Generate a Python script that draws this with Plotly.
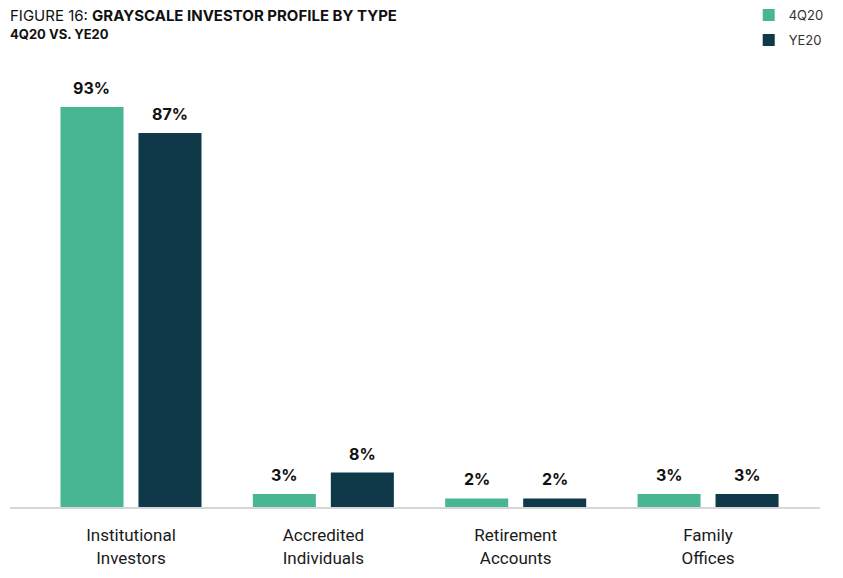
import plotly.graph_objects as go

categories = ["Institutional<br>Investors", "Accredited<br>Individuals", "Retirement<br>Accounts", "Family<br>Offices"]
series_names = ["4Q20", "YE20"]
values_4q20 = [93, 3, 2, 3]
values_ye20 = [87, 8, 2, 3]
colors = ["#48b595", "#0f3849"]
label_shift = [-39, 39]

fig = go.Figure()
annotations = []
for name, vals, col, xs in zip(series_names, [values_4q20, values_ye20], colors, label_shift):
    fig.add_trace(go.Bar(
        x=categories, y=vals, name=name, legendgroup=name,
        marker=dict(color=col, line=dict(width=0)),
    ))
    for c, v in zip(categories, vals):
        annotations.append(dict(
            x=c, y=v, xref="x", yref="y", text=f"<b>{v}%</b>", showarrow=False,
            xanchor="center", yanchor="bottom", xshift=xs, yshift=7,
            font=dict(family="Inter, Roboto, sans-serif", size=16, color="#111111"),
        ))

annotations += [
    dict(text="FIGURE 16: <b>GRAYSCALE INVESTOR PROFILE BY TYPE</b>",
         xref="paper", yref="paper", x=-0.003, y=1.144, xanchor="left", yanchor="middle",
         showarrow=False, font=dict(family="Inter, Roboto, sans-serif", size=15, color="#111111")),
    dict(text="<b>4Q20 VS. YE20</b>",
         xref="paper", yref="paper", x=-0.003, y=1.099, xanchor="left", yanchor="middle",
         showarrow=False, font=dict(family="Inter, Roboto, sans-serif", size=13, color="#111111")),
]

fig.update_layout(
    width=843, height=578,
    margin=dict(l=10, r=23, t=77, b=71, autoexpand=False),
    paper_bgcolor="white", plot_bgcolor="white",
    barmode="group", bargap=0.189, bargroupgap=0.192,
    showlegend=True,
    legend=dict(x=0.912, y=1.179, xanchor="left", yanchor="top",
                font=dict(family="Inter, Roboto, sans-serif", size=13, color="#333333"),
                tracegroupgap=5, bgcolor="rgba(0,0,0,0)"),
    xaxis=dict(type="category", range=[-0.629, 3.582], showgrid=False,
               showline=True, linecolor="#d6d6d6", linewidth=2,
               ticks="", ticklabelstandoff=12,
               tickfont=dict(family="Roboto, sans-serif", size=17, color="#1a1a1a")),
    yaxis=dict(range=[0, 100], visible=False, showgrid=False),
    annotations=annotations,
)

fig.write_html("out.html", config={"displayModeBar": False},
               post_script="document.body.style.margin='0';")
